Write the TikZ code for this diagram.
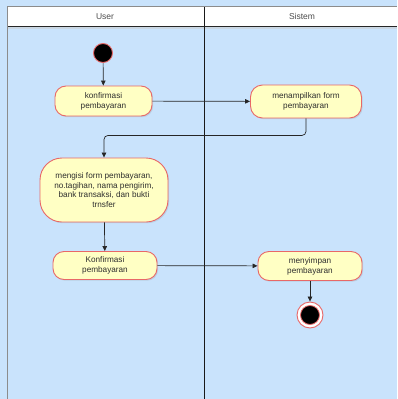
\documentclass[tikz,border=0pt]{standalone}
\usepackage{fontspec}
\setmainfont{Liberation Sans}
\usetikzlibrary{arrows.meta,shadows}
\definecolor{bgblue}{HTML}{C9E3FC}
\definecolor{actfill}{HTML}{FFFFC4}
\definecolor{actdraw}{HTML}{E86868}
\definecolor{txtc}{HTML}{2E2E2E}
\begin{document}
\begin{tikzpicture}[x=1pt,y=-1pt,
  act/.style={draw=actdraw, fill=actfill, line width=0.9pt, align=center, inner sep=1pt,
    font=\fontsize{8.2}{9.8}\selectfont, text=txtc,
    drop shadow={opacity=0.2, shadow xshift=1.2pt, shadow yshift=-1.2pt}},
  arr/.style={draw=black!85, line width=0.7pt, -{Triangle[length=5pt,width=4.5pt]}},
  hdr/.style={font=\fontsize{8.5}{9}\selectfont, text=black!70}]
\useasboundingbox (0,0) rectangle (397,399);
\fill[bgblue] (0,0) rectangle (397,399);
\fill[white] (8,7) rectangle (397,26);
\fill[black!20, opacity=0.5] (8,26.5) rectangle (397,29);
\draw[black!45, line width=1pt] (7.5,399) -- (7.5,6.5) -- (397,6.5);
\draw[black!85, line width=1pt] (8,26) -- (397,26);
\draw[black!90, line width=1.1pt] (204.5,7) -- (204.5,399);
\node[hdr] (hu) at (105,16.5) {User};
\node[hdr] (hs) at (302,16.5) {Sistem};

\node[circle, fill=black, draw=actdraw, line width=0.9pt, minimum size=19pt, inner sep=0pt] (s) at (103,53) {};
\node[act, minimum width=97pt, minimum height=30pt, rounded corners=11pt] (a1) at (103.5,101) {konfirmasi\\pembayaran};
\node[act, minimum width=111pt, minimum height=33pt, rounded corners=12pt] (a2) at (306,101.5) {menampilkan form\\pembayaran};
\node[act, minimum width=128pt, minimum height=64pt, rounded corners=22pt, inner sep=0pt] (a3) at (104,190) {mengisi form pembayaran,\\no.tagihan, nama pengirim,\\bank transaksi, dan bukti\\trnsfer};
\node[act, minimum width=104pt, minimum height=28pt, rounded corners=11pt] (a4) at (105,265.5) {Konfirmasi\\pembayaran};
\node[act, minimum width=104pt, minimum height=29pt, rounded corners=11pt] (a5) at (310,266) {menyimpan\\pembayaran};
\node[circle, fill=white, draw=actdraw, line width=0.9pt, minimum size=26pt, inner sep=0pt] (e) at (310,315) {};
\node[circle, fill=black, draw=actdraw, line width=0.8pt, minimum size=19pt, inner sep=0pt] (ei) at (310,315) {};

\draw[arr] (s) -- (a1);
\draw[arr] (a1) -- (a2);
\draw[arr, rounded corners=4pt] (a2.south) -- ++(0,17) -| (a3.north);
\draw[arr] (a3) -- (a4);
\draw[arr] (a4) -- (a5);
\draw[arr] (a5) -- (e);
\end{tikzpicture}
\end{document}
